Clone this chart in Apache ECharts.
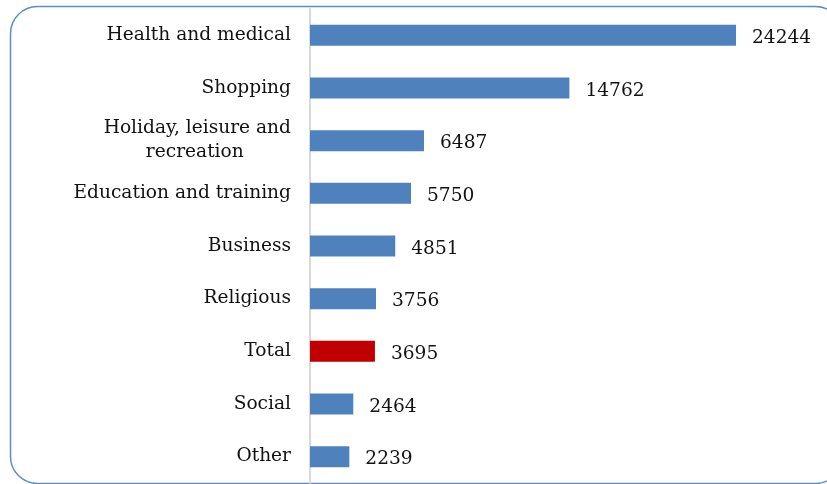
<!DOCTYPE html>
<html>
<head>
<meta charset="utf-8">
<script src="https://cdn.jsdelivr.net/npm/echarts@6/dist/echarts.min.js"></script>
<style>
  html, body { margin: 0; padding: 0; background: #ffffff; }
  #chart { width: 827px; height: 484px; }
</style>
</head>
<body>
<div id="chart"></div>
<script>
// Categories listed bottom-to-top (category axis starts at the bottom)
var categories = [
  'Other',
  'Social',
  'Total',
  'Religious',
  'Business',
  'Education and training',
  'Holiday, leisure and\nrecreation',
  'Shopping',
  'Health and medical'
];
var values = [2239, 2464, 3695, 3756, 4851, 5750, 6487, 14762, 24244];
var highlightCategory = 'Total';

var BLUE = '#4F81BD';
var RED = '#C00000';
var FONT = '"DejaVu Serif", "Liberation Serif", serif';

var chart = echarts.init(document.getElementById('chart'), null, { renderer: 'canvas' });

var seriesData = values.map(function (v, i) {
  return {
    value: v,
    itemStyle: { color: categories[i] === highlightCategory ? RED : BLUE }
  };
});

// Right-aligned label block; second lines of wrapped labels sit centred under the first
function centreWrappedLines(label) {
  var lines = label.split('\n');
  if (lines.length < 2) return label;
  var longest = Math.max.apply(null, lines.map(function (l) { return l.length; }));
  return lines.map(function (l) {
    var pad = Math.round((longest - l.length) * 0.8);
    return l + new Array(pad + 1).join('\u00a0');
  }).join('\n');
}

chart.setOption({
  animation: false,
  backgroundColor: '#ffffff',
  graphic: [{
    type: 'rect',
    shape: { x: 10.5, y: 6.5, width: 832, height: 477, r: 27 },
    style: { fill: 'none', stroke: '#5B8CCB', lineWidth: 1.5 },
    z: -1
  }],
  grid: { left: 310, top: 9, width: 492, height: 474, containLabel: false },
  xAxis: {
    type: 'value',
    min: 0,
    max: 28000,
    show: false
  },
  yAxis: {
    type: 'category',
    data: categories,
    axisLine: { show: true, lineStyle: { color: '#D9D9D9', width: 2 } },
    axisTick: { show: false },
    axisLabel: {
      margin: 19,
      color: '#111111',
      fontFamily: FONT,
      fontSize: 18.6,
      lineHeight: 24,
      align: 'right',
      formatter: centreWrappedLines
    },
    splitLine: { show: false }
  },
  series: [{
    type: 'bar',
    data: seriesData,
    barWidth: 21,
    label: {
      show: true,
      position: 'right',
      distance: 16,
      color: '#111111',
      fontFamily: FONT,
      fontSize: 18.6,
      offset: [0, 3]
    }
  }]
});
</script>
</body>
</html>
